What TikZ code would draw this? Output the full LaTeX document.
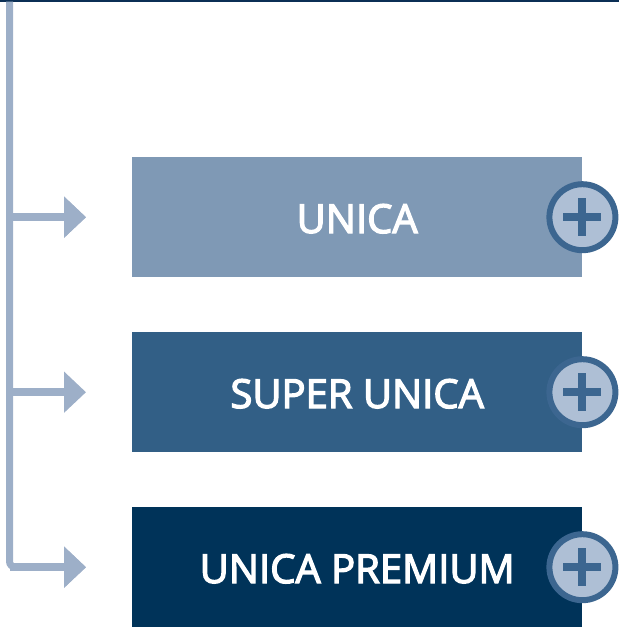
\documentclass[tikz,border=0pt]{standalone}
\usepackage{fontspec}
\setmainfont{Open Sans}[FakeBold=3.2]
\usetikzlibrary{arrows.meta,calc}
\definecolor{barcol}{HTML}{9DAFC8}
\definecolor{boxA}{HTML}{7F99B5}
\definecolor{boxB}{HTML}{325F86}
\definecolor{boxC}{HTML}{003359}
\definecolor{ringcol}{HTML}{3C6690}
\definecolor{plusfill}{HTML}{AEBFD5}
\definecolor{topcol}{HTML}{0B2F55}
\begin{document}
\begin{tikzpicture}[x=1pt,y=-1pt,
  plan/.style={minimum width=450pt,minimum height=120pt,inner sep=0pt,text=white,font=\fontsize{40}{40}\selectfont,text height=31.6pt,text depth=0pt,anchor=north west},
  plusbtn/.style={circle,draw=ringcol,line width=6pt,fill=plusfill,minimum size=66pt,inner sep=0pt},
  conn/.style={draw=barcol,line width=8pt,-{Triangle[length=22pt,width=40pt]},shorten >=46pt},
  plusbar/.style={draw=ringcol,line width=8pt}]
\useasboundingbox (0,0) rectangle (619,627);
\draw[topcol,line width=1.6pt] (0,0.8) -- (619,0.8);
\node[plan,fill=boxA] (b1) at (132,157) {UNICA};
\node[plan,fill=boxB] (b2) at (132,332) {SUPER UNICA};
\node[plan,fill=boxC] (b3) at (132,507) {UNICA PREMIUM};
\coordinate (top) at (9.5,1.6);
\draw[conn,line width=7pt] (top) |- (b1.west);
\draw[conn] ($(top |- b1.west)+(-3.5,0)$) -- (b1.west);
\draw[conn] ($(top |- b2.west)+(-3.5,0)$) -- (b2.west);
\draw[conn,line width=7pt,rounded corners=6pt] (top) |- (b3.west);
\draw[conn] ($(top |- b3.west)+(0,0)$) -- (b3.west);
\foreach \i in {1,2,3}{
  \node[plusbtn] (p\i) at (b\i.east) {};
  \draw[plusbar] ($(p\i.center)+(-19,0)$) -- ($(p\i.center)+(19,0)$);
  \draw[plusbar] ($(p\i.center)+(0,-19)$) -- ($(p\i.center)+(0,19)$);
}
\end{tikzpicture}
\end{document}
